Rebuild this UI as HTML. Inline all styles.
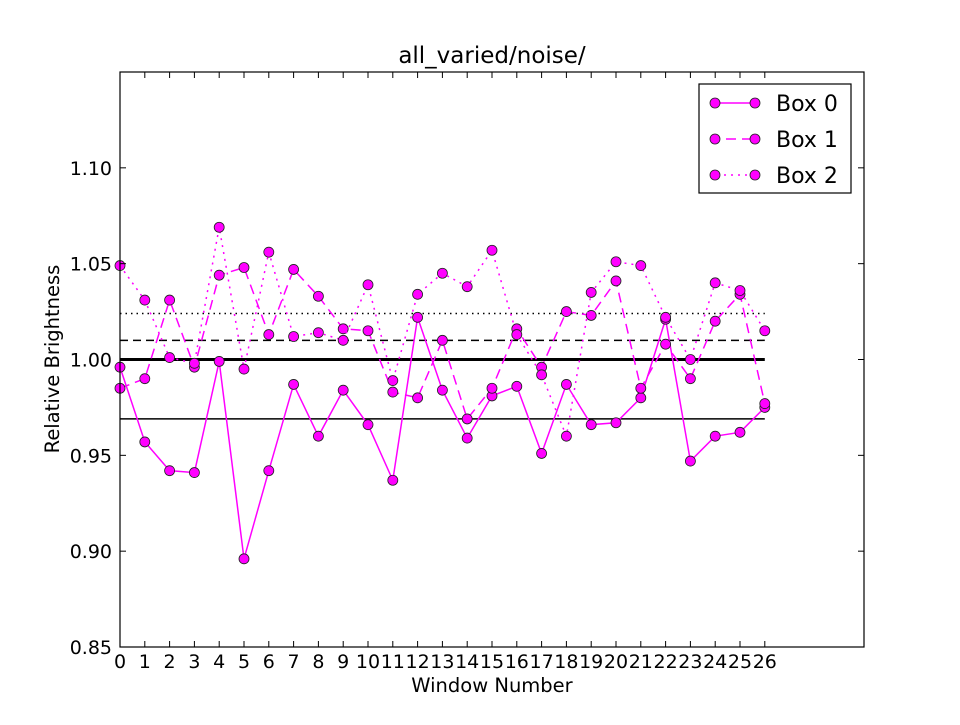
<!DOCTYPE html>
<html><head><meta charset="utf-8"><style>
body{margin:0;background:#fff}
svg text{font-family:"DejaVu Sans","Liberation Sans",sans-serif;fill:#000}
</style></head><body>
<svg id="chart" width="960" height="720" xmlns="http://www.w3.org/2000/svg">
<rect width="960" height="720" fill="#fff"/>
<text x="492" y="63" font-size="23" text-anchor="middle">all_varied/noise/</text>
<g id="plot"></g>
<text x="492" y="692" font-size="19.5" text-anchor="middle">Window Number</text>
<text transform="translate(59,359) rotate(-90)" font-size="19.5" text-anchor="middle">Relative Brightness</text>
</svg>
<script>
const windows=[0,1,2,3,4,5,6,7,8,9,10,11,12,13,14,15,16,17,18,19,20,21,22,23,24,25,26];
const box0=[0.996,0.957,0.942,0.941,0.999,0.896,0.942,0.987,0.960,0.984,0.966,0.937,1.022,0.984,0.959,0.981,0.986,0.951,0.987,0.966,0.967,0.980,1.021,0.947,0.960,0.962,0.975];
const box1=[0.985,0.990,1.031,0.996,1.044,1.048,1.013,1.047,1.033,1.016,1.015,0.983,0.980,1.010,0.969,0.985,1.016,0.996,1.025,1.023,1.041,0.985,1.008,0.990,1.020,1.034,0.977];
const box2=[1.049,1.031,1.001,0.998,1.069,0.995,1.056,1.012,1.014,1.010,1.039,0.989,1.034,1.045,1.038,1.057,1.013,0.992,0.960,1.035,1.051,1.049,1.022,1.000,1.040,1.036,1.015];
const refLevels=[1.000,1.010,1.024,0.969];
const yTicks=[0.85,0.90,0.95,1.00,1.05,1.10];
const seriesNames=["Box 0","Box 1","Box 2"];
const X0=120,X1=864,Y0=72,Y1=647,XMIN=0,XMAX=30,YMIN=0.85,YMAX=1.15;
const sx=v=>X0+(v-XMIN)/(XMAX-XMIN)*(X1-X0);
const sy=v=>Y1-(v-YMIN)/(YMAX-YMIN)*(Y1-Y0);
const NS="http://www.w3.org/2000/svg";
const g=document.getElementById('plot');
function mk(t,a,p){const e=document.createElementNS(NS,t);for(const k in a)e.setAttribute(k,a[k]);(p||g).appendChild(e);return e;}
const refStyles=[{w:3,d:""},{w:1.5,d:"8,5"},{w:1.5,d:"1.5,4"},{w:1.5,d:""}];
const refNames=['ref-line-mean','ref-line-box1-mean','ref-line-box2-mean','ref-line-box0-mean'];
refLevels.forEach((v,i)=>{
 const l=mk('line',{x1:sx(0),x2:sx(26),y1:sy(v),y2:sy(v),stroke:'#000','stroke-width':refStyles[i].w,'stroke-dasharray':refStyles[i].d});
 
 
});
const dashes=["","10,6","2,5"];
[box0,box1,box2].forEach((s,si)=>{
 const grp=mk('g',{});
 
 
 const pts=s.map((v,i)=>sx(windows[i])+','+sy(v)).join(' ');
 mk('polyline',{points:pts,fill:'none',stroke:'#ff00ff','stroke-width':1.5,'stroke-dasharray':dashes[si]},grp);
 s.forEach((v,i)=>{
  const c=mk('circle',{cx:sx(windows[i]),cy:sy(v),r:5,fill:'#ff00ff',stroke:'#222','stroke-width':0.8},grp);
  
  
 });
});
const fr=mk('rect',{x:X0,y:Y0,width:X1-X0,height:Y1-Y0,fill:'none',stroke:'#000','stroke-width':1.2});


yTicks.forEach(v=>{
 mk('line',{x1:X0,x2:X0+6,y1:sy(v),y2:sy(v),stroke:'#000'});
 mk('line',{x1:X1,x2:X1-6,y1:sy(v),y2:sy(v),stroke:'#000'});
 const t=mk('text',{x:X0-8,y:sy(v)+7,'font-size':19,'text-anchor':'end'});
 t.textContent=v.toFixed(2);
 
 
});
windows.forEach(w=>{
 mk('line',{x1:sx(w),x2:sx(w),y1:Y1,y2:Y1-6,stroke:'#000'});
 mk('line',{x1:sx(w),x2:sx(w),y1:Y0,y2:Y0+6,stroke:'#000'});
 const t=mk('text',{x:sx(w),y:Y1+21,'font-size':19,'text-anchor':'middle'});
 t.textContent=String(w);
 
 
});
const lg=mk('g',{});


mk('rect',{x:699,y:84,width:152,height:109,fill:'#fff',stroke:'#000','stroke-width':1.2},lg);
seriesNames.forEach((n,i)=>{
 const y=103+i*36;
 const e=mk('g',{},lg);
 
 
 mk('line',{x1:710,x2:760,y1:y,y2:y,stroke:'#ff00ff','stroke-width':1.5,'stroke-dasharray':dashes[i]},e);
 mk('circle',{cx:715,cy:y,r:5,fill:'#ff00ff',stroke:'#222','stroke-width':0.8},e);
 mk('circle',{cx:755,cy:y,r:5,fill:'#ff00ff',stroke:'#222','stroke-width':0.8},e);
 const t=mk('text',{x:776,y:y+8,'font-size':22},e);
 t.textContent=n;
});
</script>
</body></html>
